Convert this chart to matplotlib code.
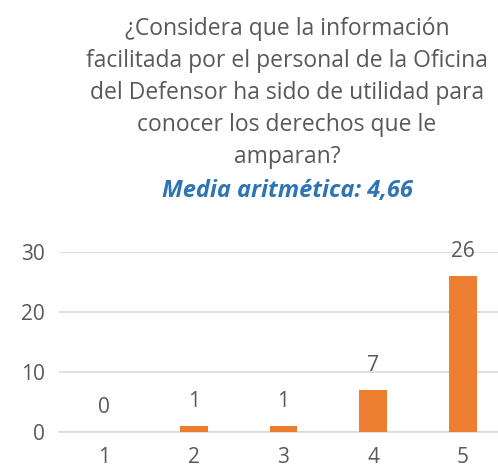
import matplotlib
matplotlib.use("Agg")
import matplotlib.pyplot as plt

categories = ["1", "2", "3", "4", "5"]
counts = [0, 1, 1, 7, 26]
y_ticks = [0, 10, 20, 30]
title_lines = [
    "¿Considera que la información",
    "facilitada por el personal de la Oficina",
    "del Defensor ha sido de utilidad para",
    "conocer los derechos que le",
    "amparan?",
]
subtitle = "Media aritmética: 4,66"

GRAY = "#595959"
ORANGE = "#ED7D31"
BLUE = "#2E75B6"
GRID = "#D9D9D9"

plt.rcParams["font.family"] = ["Open Sans", "DejaVu Sans"]

W, H = 498, 472
fig = plt.figure(figsize=(W / 100, H / 100), dpi=100)
ax = fig.add_axes([59 / W, (H - 432) / H, 449 / W, 180 / H])

x = list(range(len(categories)))
ax.bar(x, counts, width=0.31, color=ORANGE, zorder=3)
ax.set_xlim(-0.5, len(categories) - 0.5)
ax.set_ylim(0, 30)
ax.set_yticks(y_ticks)
ax.set_xticks(x)
ax.set_xticklabels(categories)
ax.grid(axis="y", color=GRID, linewidth=1.2, zorder=0)
for s in ["top", "right", "left"]:
    ax.spines[s].set_visible(False)
ax.spines["bottom"].set_color(GRID)
ax.spines["bottom"].set_linewidth(1.2)
ax.tick_params(axis="both", length=0, labelsize=15, labelcolor=GRAY)
ax.tick_params(axis="y", pad=10)
ax.tick_params(axis="x", pad=11)

for xi, v in zip(x, counts):
    ax.annotate(str(v), (xi, v), xytext=(0, 17.5), textcoords="offset points",
                ha="center", va="center", fontsize=15, color=GRAY)

# title lines placed by baseline (pixels from top)
cx = 287 / W
for i, line in enumerate(title_lines):
    fig.text(cx, 1 - (35 + 32 * i) / H, line, ha="center", va="baseline",
             fontsize=16.5, color=GRAY)
fig.text(cx, 1 - 197 / H, subtitle, ha="center", va="baseline",
         fontsize=17, color=BLUE, fontweight="bold", fontstyle="italic")

fig.savefig("out.png", dpi=100)
